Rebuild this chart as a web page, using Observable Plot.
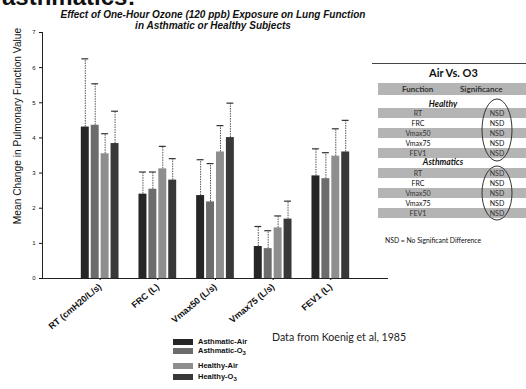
<!DOCTYPE html>
<html><head><meta charset="utf-8">
<script src="https://cdn.jsdelivr.net/npm/d3@7"></script>
<script src="https://cdn.jsdelivr.net/npm/@observablehq/plot@0.6"></script>
<style>
body{margin:0;background:#fff;}
#wrap{position:relative;width:526px;height:389px;overflow:hidden;font-family:"Liberation Sans",Arial,sans-serif;color:#111;}
#wrap svg{position:absolute;left:0;top:0;}
.abs{position:absolute;white-space:nowrap;}
.title{font-weight:bold;font-style:italic;font-size:10px;text-align:center;width:360px;left:33px;line-height:11px;}
.ylab{font-size:10.2px;transform:rotate(-90deg);transform-origin:center;}
.leg{font-weight:bold;font-size:7.5px;line-height:8px;}
.sw{position:absolute;width:20px;height:6px;}
.tbl{font-family:Lato,"Open Sans",sans-serif;}
</style></head><body><div id="wrap"></div>
<script>
const categories = ["RT (cmH20/L/s)", "FRC (L)", "Vmax50 (L/s)", "Vmax75 (L/s)", "FEV1 (L)"];
const series = ["Asthmatic-Air", "Asthmatic-O3", "Healthy-Air", "Healthy-O3"];
const colors = ["#262626", "#6c6c6c", "#8e8e8e", "#383838"];
const asthmaticAir = [4.31, 2.40, 2.36, 0.91, 2.92];
const asthmaticO3  = [4.36, 2.54, 2.18, 0.85, 2.84];
const healthyAir   = [3.55, 3.12, 3.60, 1.44, 3.48];
const healthyO3    = [3.84, 2.80, 4.01, 1.69, 3.60];
const asthmaticAirUpper = [6.25, 3.03, 3.38, 1.48, 3.69];
const asthmaticO3Upper  = [5.54, 3.03, 3.27, 1.36, 3.58];
const healthyAirUpper   = [4.12, 3.76, 4.35, 1.78, 4.26];
const healthyO3Upper    = [4.76, 3.41, 4.99, 2.20, 4.50];
const yTicks = [0, 1, 2, 3, 4, 5, 6, 7];
const tableFunctions = ["RT", "FRC", "Vmax50", "Vmax75", "FEV1"];
const tableGroups = ["Healthy", "Asthmatics"];
const significance = ["NSD", "NSD", "NSD", "NSD", "NSD"];

const means = [asthmaticAir, asthmaticO3, healthyAir, healthyO3];
const uppers = [asthmaticAirUpper, asthmaticO3Upper, healthyAirUpper, healthyO3Upper];
const rows = [];
categories.forEach((c, i) => series.forEach((s, j) => rows.push({
  cat: i + 1, j, series: s, value: means[j][i], upper: uppers[j][i]
})));
const step = 0.172, bw = 0.138, cap = 0.06;
const cx = d => d.cat + (d.j - 1.5) * step;

const chart = Plot.plot({
  width: 526, height: 389,
  marginLeft: 42, marginRight: 138, marginTop: 32, marginBottom: 111,
  x: {domain: [0, 6], axis: null},
  y: {domain: [0, 7], axis: null},
  color: {domain: series, range: colors},
  style: {fontFamily: "Liberation Sans, Arial, sans-serif", background: "transparent", color: "#111"},
  marks: [
    Plot.axisY({ticks: yTicks, tickSize: 3, tickPadding: 4, fontSize: 6, label: null, tickFormat: d => d}),
    Plot.axisX({ticks: categories.map((c, i) => i + 1), tickFormat: v => categories[v - 1], tickRotate: -40,
      tickSize: 2, tickPadding: 5, fontSize: 9, fontWeight: "bold", label: null}),
    Plot.rectY(rows, {x1: d => cx(d) - bw / 2, x2: d => cx(d) + bw / 2, y: "value", fill: "series"}),
    Plot.ruleX(rows, {x: cx, y1: "value", y2: "upper", stroke: "#555", strokeDasharray: "1.5,1"}),
    Plot.ruleY(rows, {x1: d => cx(d) - cap, x2: d => cx(d) + cap, y: "upper", stroke: "#333", strokeWidth: 1.2}),
    Plot.ruleX([0], {stroke: "#222"}),
    Plot.ruleY([0], {stroke: "#222", strokeWidth: 1.2})
  ]
});
const wrap = document.getElementById("wrap");
wrap.appendChild(chart);

function add(html, cls, style) {
  const d = document.createElement("div");
  d.className = "abs " + (cls || "");
  d.innerHTML = html;
  Object.assign(d.style, style);
  wrap.appendChild(d);
  return d;
}
// clipped heading (cut off at the top edge, as in the reference)
add("asthmatics:", "", {left: "2px", top: "-15px", fontSize: "24px", fontWeight: "bold", lineHeight: "24px"});
add("Effect of One-Hour Ozone (120 ppb) Exposure on Lung Function", "title", {top: "9px"});
add("in Asthmatic or Healthy Subjects", "title", {top: "20px"});
add("Mean Change in Pulmonary Function Value", "ylab", {left: "-82px", top: "120px", width: "200px", textAlign: "center", lineHeight: "12px"});

// legend
const legTops = [339, 348, 363, 374];
series.forEach((s, j) => {
  add("", "sw", {left: "173px", top: legTops[j] + "px", background: colors[j]});
  const label = s.replace("O3", "O<sub style='font-size:6px;vertical-align:-2px'>3</sub>");
  add(label, "leg", {left: "198px", top: (legTops[j] - 1) + "px"});
});
add("Data from Koenig et al, 1985", "tbl", {left: "272px", top: "331px", fontSize: "10.6px", color: "#222"});

// table
add("", "", {left: "372px", top: "63px", width: "154px", height: "0px", borderTop: "1px solid #444"});
add("Air Vs. O3", "tbl", {left: "429px", top: "66px", fontSize: "11px", fontWeight: "bold"});
add("", "", {left: "378px", top: "83px", width: "148px", height: "12px", background: "#b4b4b4"});
add("Function", "tbl", {left: "402px", top: "84px", fontSize: "8px", fontWeight: "bold", color: "#333"});
add("Significance", "tbl", {left: "460px", top: "84px", fontSize: "8px", fontWeight: "bold", color: "#333"});
const groupTops = [99, 157];
const rowTops = [[108, 118, 128, 138, 148], [168, 178, 188, 198, 208]];
tableGroups.forEach((g, gi) => {
  add(g, "tbl", {left: "403px", width: "80px", textAlign: "center", top: groupTops[gi] + "px", fontSize: "8.5px", fontWeight: "bold", fontStyle: "italic"});
  tableFunctions.forEach((f, k) => {
    const t = rowTops[gi][k];
    if (k % 2 === 0) add("", "", {left: "378px", top: t + "px", width: "148px", height: "10px", background: "#b4b4b4"});
    add(f, "tbl", {left: "398px", width: "40px", textAlign: "center", top: (t + 1) + "px", fontSize: "7px", lineHeight: "9px", color: k % 2 === 0 ? "#333" : "#111"});
    add(significance[k], "tbl", {left: "482px", width: "30px", textAlign: "center", top: (t + 1) + "px", fontSize: "7px", lineHeight: "9px", color: k % 2 === 0 ? "#333" : "#111"});
  });
});
add("NSD = No Significant Difference", "tbl", {left: "385px", top: "236px", fontSize: "6.8px"});
const ov = d3.select(wrap).append("svg").attr("width", 526).attr("height", 389).style("pointer-events", "none");
ov.append("ellipse").attr("cx", 497).attr("cy", 130).attr("rx", 15).attr("ry", 31).attr("fill", "none").attr("stroke", "#333");
ov.append("ellipse").attr("cx", 497).attr("cy", 193).attr("rx", 15).attr("ry", 27).attr("fill", "none").attr("stroke", "#333");
</script></body></html>
